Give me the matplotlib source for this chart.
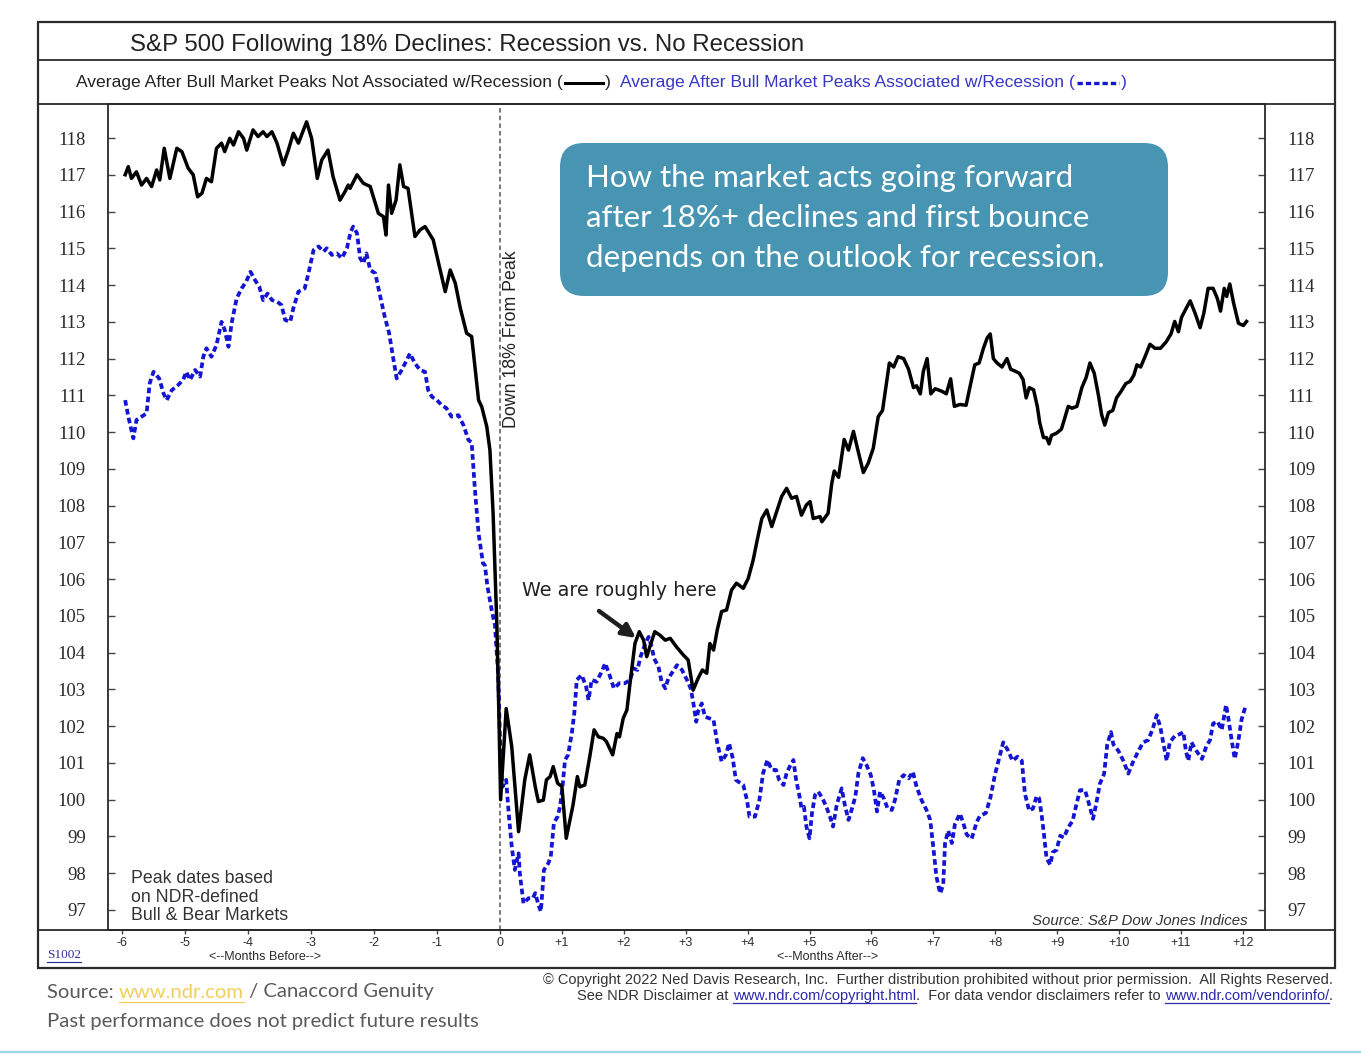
import matplotlib
matplotlib.use("Agg")
import matplotlib.pyplot as plt
import numpy as np
from matplotlib.lines import Line2D
from matplotlib.patches import Rectangle, FancyBboxPatch, FancyArrowPatch
from matplotlib.transforms import Affine2D

# ---------------- data (months from peak, index level) ----------------
no_rec_x = [-5.95, -5.90, -5.85, -5.77, -5.69, -5.61, -5.53, -5.45, -5.40, -5.33,
            -5.24, -5.13, -5.05, -4.95, -4.87, -4.80, -4.73, -4.66, -4.58, -4.50,
            -4.42, -4.37, -4.29, -4.23, -4.15, -4.07, -4.02, -3.92, -3.84, -3.76,
            -3.70, -3.62, -3.54, -3.44, -3.36, -3.28, -3.20, -3.07, -2.99, -2.90,
            -2.83, -2.73, -2.65, -2.54, -2.46, -2.41, -2.38, -2.27, -2.17, -2.06,
            -1.93, -1.85, -1.81, -1.77, -1.72, -1.65, -1.59, -1.53, -1.46, -1.35,
            -1.27, -1.19, -1.06, -0.87, -0.79, -0.71, -0.63, -0.53, -0.45, -0.34,
            -0.29, -0.21, -0.16, -0.11, -0.05, -0.02, 0.01, 0.10, 0.19, 0.30,
            0.40, 0.48, 0.57, 0.62, 0.70, 0.75, 0.81, 0.86, 0.93, 1.00,
            1.07, 1.13, 1.18, 1.25, 1.29, 1.37, 1.45, 1.52, 1.59, 1.67,
            1.72, 1.82, 1.89, 1.93, 1.99, 2.05, 2.10, 2.18, 2.25, 2.32,
            2.37, 2.43, 2.50, 2.58, 2.67, 2.75, 2.85, 2.96, 3.04, 3.12,
            3.20, 3.27, 3.34, 3.39, 3.45, 3.51, 3.58, 3.66, 3.74, 3.82,
            3.93, 4.01, 4.09, 4.15, 4.23, 4.31, 4.39, 4.47, 4.55, 4.63,
            4.71, 4.79, 4.87, 4.95, 5.01, 5.06, 5.17, 5.20, 5.30, 5.36,
            5.40, 5.47, 5.56, 5.63, 5.71, 5.79, 5.87, 5.95, 6.03, 6.11,
            6.18, 6.24, 6.29, 6.36, 6.43, 6.52, 6.60, 6.68, 6.73, 6.79,
            6.84, 6.90, 6.96, 7.03, 7.14, 7.21, 7.28, 7.34, 7.43, 7.53,
            7.59, 7.67, 7.74, 7.81, 7.87, 7.92, 7.97, 8.03, 8.11, 8.19,
            8.25, 8.32, 8.39, 8.45, 8.50, 8.55, 8.62, 8.68, 8.72, 8.78,
            8.83, 8.87, 8.91, 8.99, 9.07, 9.13, 9.18, 9.24, 9.32, 9.40,
            9.47, 9.53, 9.60, 9.67, 9.72, 9.77, 9.83, 9.90, 9.96, 10.03,
            10.11, 10.18, 10.24, 10.29, 10.35, 10.42, 10.50, 10.58, 10.67, 10.76,
            10.84, 10.90, 10.96, 11.01, 11.08, 11.15, 11.23, 11.31, 11.37, 11.44,
            11.52, 11.59, 11.64, 11.70, 11.74, 11.79, 11.85, 11.93, 12.01, 12.06]
no_rec_y = [117.00, 117.22, 116.90, 117.08, 116.72, 116.90, 116.68, 117.13, 116.86, 117.72,
            116.90, 117.72, 117.63, 117.18, 117.00, 116.40, 116.50, 116.90, 116.81, 117.72,
            117.86, 117.63, 117.99, 117.81, 118.17, 117.99, 117.67, 118.22, 118.04, 118.17,
            118.04, 118.17, 117.86, 117.27, 117.67, 118.13, 117.86, 118.44, 117.99, 116.90,
            117.40, 117.67, 116.95, 116.31, 116.54, 116.72, 116.63, 117.00, 116.77, 116.68,
            115.95, 115.86, 115.36, 116.72, 115.95, 116.31, 117.27, 116.68, 116.63, 115.32,
            115.50, 115.59, 115.23, 113.82, 114.41, 114.05, 113.37, 112.69, 112.60, 110.87,
            110.69, 110.15, 109.51, 107.81, 104.75, 102.50, 100.00, 102.48, 101.44, 99.13,
            100.54, 101.22, 100.35, 99.95, 99.99, 100.54, 100.63, 100.90, 100.45, 100.36,
            98.95, 99.45, 99.86, 100.63, 100.35, 100.40, 101.17, 101.90, 101.71, 101.67,
            101.58, 101.22, 101.80, 101.71, 102.21, 102.44, 103.16, 104.25, 104.57, 104.34,
            103.89, 104.21, 104.57, 104.48, 104.34, 104.39, 104.16, 103.94, 103.80, 102.98,
            103.30, 103.53, 103.44, 104.25, 104.07, 104.62, 105.12, 105.16, 105.70, 105.89,
            105.75, 106.02, 106.52, 107.02, 107.65, 107.88, 107.43, 107.84, 108.25, 108.47,
            108.20, 108.25, 107.74, 108.02, 108.11, 107.65, 107.70, 107.56, 107.79, 108.61,
            108.94, 108.77, 109.80, 109.51, 110.02, 109.45, 108.90, 109.16, 109.56, 110.42,
            110.59, 111.30, 111.88, 111.77, 112.05, 112.00, 111.71, 111.21, 111.26, 111.04,
            111.66, 112.00, 111.04, 111.18, 111.11, 111.04, 111.45, 110.70, 110.75, 110.73,
            111.21, 111.83, 111.88, 112.28, 112.56, 112.67, 112.00, 111.88, 111.77, 112.00,
            111.71, 111.66, 111.60, 111.43, 110.93, 111.21, 111.15, 110.70, 110.25, 109.85,
            109.85, 109.68, 109.91, 109.97, 110.08, 110.42, 110.70, 110.65, 110.70, 111.21,
            111.49, 111.88, 111.60, 110.98, 110.47, 110.19, 110.53, 110.59, 110.93, 111.10,
            111.32, 111.38, 111.55, 111.83, 111.77, 112.05, 112.39, 112.28, 112.28, 112.45,
            112.67, 113.01, 112.73, 113.12, 113.35, 113.57, 113.23, 112.84, 113.23, 113.91,
            113.91, 113.63, 113.29, 113.91, 113.69, 114.03, 113.52, 112.96, 112.90, 113.01]

rec_x = [-5.95, -5.90, -5.82, -5.77, -5.69, -5.61, -5.56, -5.50, -5.41, -5.34,
         -5.29, -5.21, -5.11, -5.03, -4.98, -4.92, -4.84, -4.76, -4.71, -4.66,
         -4.58, -4.50, -4.42, -4.37, -4.31, -4.26, -4.18, -4.10, -4.03, -3.96,
         -3.89, -3.82, -3.76, -3.69, -3.62, -3.54, -3.47, -3.41, -3.33, -3.28,
         -3.20, -3.10, -3.04, -2.96, -2.88, -2.80, -2.75, -2.67, -2.59, -2.51,
         -2.43, -2.37, -2.33, -2.27, -2.22, -2.17, -2.12, -2.06, -1.98, -1.90,
         -1.83, -1.76, -1.69, -1.64, -1.56, -1.48, -1.43, -1.35, -1.27, -1.19,
         -1.14, -1.08, -1.00, -0.93, -0.85, -0.77, -0.66, -0.58, -0.50, -0.45,
         -0.40, -0.34, -0.27, -0.24, -0.20, -0.13, -0.08, -0.03, 0.00, 0.02,
         0.04, 0.10, 0.14, 0.19, 0.24, 0.30, 0.32, 0.38, 0.46, 0.53,
         0.57, 0.62, 0.66, 0.71, 0.78, 0.82, 0.87, 0.93, 0.97, 1.01,
         1.05, 1.10, 1.16, 1.20, 1.24, 1.32, 1.39, 1.43, 1.48, 1.56,
         1.63, 1.70, 1.77, 1.84, 1.93, 2.02, 2.10, 2.16, 2.22, 2.27,
         2.34, 2.40, 2.45, 2.49, 2.56, 2.61, 2.67, 2.72, 2.79, 2.86,
         2.94, 3.02, 3.08, 3.12, 3.17, 3.20, 3.26, 3.31, 3.39, 3.45,
         3.51, 3.58, 3.65, 3.70, 3.76, 3.81, 3.85, 3.93, 3.99, 4.03,
         4.12, 4.19, 4.25, 4.32, 4.39, 4.46, 4.51, 4.58, 4.63, 4.68,
         4.74, 4.78, 4.84, 4.87, 4.91, 4.95, 5.00, 5.04, 5.09, 5.14,
         5.21, 5.28, 5.33, 5.38, 5.44, 5.52, 5.57, 5.63, 5.68, 5.74,
         5.79, 5.86, 5.92, 5.99, 6.04, 6.09, 6.14, 6.20, 6.26, 6.33,
         6.38, 6.45, 6.52, 6.60, 6.67, 6.73, 6.81, 6.89, 6.95, 7.00,
         7.05, 7.11, 7.16, 7.19, 7.24, 7.30, 7.35, 7.43, 7.48, 7.54,
         7.62, 7.70, 7.75, 7.85, 7.92, 8.00, 8.07, 8.13, 8.21, 8.28,
         8.36, 8.43, 8.48, 8.55, 8.61, 8.67, 8.71, 8.75, 8.79, 8.83,
         8.89, 8.93, 8.99, 9.05, 9.11, 9.18, 9.25, 9.32, 9.37, 9.45,
         9.50, 9.58, 9.63, 9.69, 9.76, 9.81, 9.87, 9.91, 9.99, 10.07,
         10.15, 10.22, 10.30, 10.39, 10.47, 10.54, 10.61, 10.67, 10.72, 10.77,
         10.82, 10.90, 10.99, 11.04, 11.08, 11.12, 11.17, 11.25, 11.34, 11.41,
         11.47, 11.52, 11.59, 11.66, 11.73, 11.77, 11.82, 11.87, 11.93, 11.98,
         12.04]
rec_y = [110.87, 110.42, 109.83, 110.33, 110.42, 110.51, 111.33, 111.64, 111.46, 111.05,
         110.87, 111.14, 111.28, 111.42, 111.64, 111.42, 111.69, 111.51, 112.05, 112.28,
         112.05, 112.37, 113.00, 112.78, 112.32, 112.96, 113.64, 113.91, 114.09, 114.36,
         114.14, 113.95, 113.59, 113.77, 113.59, 113.55, 113.46, 113.05, 113.00, 113.37,
         113.82, 113.91, 114.32, 114.95, 115.05, 114.91, 115.00, 114.82, 114.86, 114.73,
         115.00, 115.45, 115.59, 115.41, 114.73, 114.59, 114.86, 114.41, 114.32, 113.68,
         113.14, 112.69, 111.96, 111.46, 111.69, 111.96, 112.14, 111.87, 111.69, 111.64,
         111.14, 110.96, 110.87, 110.74, 110.65, 110.42, 110.46, 110.19, 109.78, 109.72,
         108.48, 107.24, 106.43, 106.38, 105.81, 105.14, 104.75, 103.42, 101.70, 100.70,
         100.35, 100.54, 99.63, 98.72, 98.09, 98.54, 98.00, 97.18, 97.32, 97.32,
         97.46, 97.14, 96.96, 98.09, 98.27, 98.45, 99.36, 99.54, 99.81, 100.35,
         101.08, 101.22, 101.81, 102.35, 103.26, 103.39, 103.08, 102.71, 103.26, 103.21,
         103.44, 103.71, 103.39, 103.03, 103.17, 103.17, 103.26, 103.57, 103.53, 103.89,
         104.21, 104.43, 104.16, 103.84, 103.62, 103.21, 103.03, 103.30, 103.48, 103.66,
         103.53, 103.26, 103.03, 102.67, 102.12, 102.40, 102.62, 102.26, 102.21, 102.17,
         101.54, 101.04, 101.22, 101.54, 101.13, 100.54, 100.49, 100.40, 99.99, 99.54,
         99.54, 99.99, 100.72, 101.08, 100.81, 100.81, 100.54, 100.40, 100.72, 100.90,
         101.08, 100.58, 100.08, 99.77, 99.81, 99.27, 98.95, 99.63, 100.13, 100.22,
         100.04, 99.77, 99.54, 99.27, 99.86, 100.31, 99.86, 99.45, 99.72, 100.08,
         100.72, 101.13, 100.95, 100.67, 100.27, 99.68, 100.22, 100.04, 99.77, 99.72,
         99.99, 100.54, 100.67, 100.58, 100.76, 100.35, 99.99, 99.72, 99.45, 98.71,
         97.91, 97.45, 97.68, 98.82, 99.16, 98.82, 99.34, 99.62, 99.39, 99.05,
         98.94, 99.39, 99.55, 99.64, 100.04, 100.71, 101.17, 101.56, 101.33, 101.06,
         101.17, 101.06, 100.16, 99.70, 99.76, 100.10, 100.04, 99.59, 99.02, 98.40,
         98.23, 98.57, 98.63, 99.02, 98.97, 99.25, 99.42, 99.93, 100.26, 100.26,
         99.98, 99.48, 99.87, 100.43, 100.71, 101.50, 101.84, 101.50, 101.33, 101.06,
         100.71, 101.00, 101.28, 101.56, 101.62, 101.90, 102.30, 101.96, 101.50, 101.06,
         101.56, 101.73, 101.79, 101.84, 101.33, 101.06, 101.56, 101.33, 101.11, 101.45,
         101.62, 102.07, 102.13, 101.90, 102.58, 102.18, 101.62, 101.11, 101.62, 102.18,
         102.52]

x_ticks = list(range(-6, 13))
x_tick_labels = [str(m) if m <= 0 else "+" + str(m) for m in x_ticks]
y_ticks = list(range(97, 119))
y_tick_labels = [str(v) for v in y_ticks]

title = "S&P 500 Following 18% Declines: Recession vs. No Recession"
legend_black = "Average After Bull Market Peaks Not Associated w/Recession ("
legend_blue = "Average After Bull Market Peaks Associated w/Recession ("
callout = "How the market acts going forward\nafter 18%+ declines and first bounce\ndepends on the outlook for recession."

# ---------------- figure ----------------
W, H = 1361, 1060
fig = plt.figure(figsize=(W / 100, H / 100), dpi=100)
fig.patch.set_facecolor("white")
# pixel transform, origin top-left
T = Affine2D().scale(1.0 / W, -1.0 / H).translate(0, 1) + fig.transFigure
renderer = fig.canvas.get_renderer()

FRAME = "#2a2a2a"
TXT = "#2b2b2b"
BLUE_LINE = "#1414d2"
BLUE_TXT = "#3636c8"


def fx(p):
    return p / W


def fy(p):
    return 1 - p / H


ax = fig.add_axes([fx(108), fy(930), fx(1265) - fx(108), fy(104) - fy(930)])


def fwd(x):
    x = np.asarray(x, float)
    return np.where(x < 0, x * 63.0, x * 61.9)


def inv(p):
    p = np.asarray(p, float)
    return np.where(p < 0, p / 63.0, p / 61.9)


ax.set_xscale("function", functions=(fwd, inv))
ax.set_xlim((108 - 500) / 63.0, (1265 - 500) / 61.9)
ax.set_ylim(97 - 20 / 36.76, 118 + 34 / 36.76)

ax.axvline(0, color="#555555", lw=1.1, ls=(0, (3, 2)), zorder=1)
ax.plot(rec_x, rec_y, color=BLUE_LINE, lw=2.7, ls=(0, (1.5, 0.9)), zorder=3)
ax.plot(no_rec_x, no_rec_y, color="black", lw=2.5, solid_joinstyle="round", zorder=4)

for s in ax.spines.values():
    s.set_color(FRAME)
    s.set_linewidth(1.3)

ax.set_yticks(y_ticks)
ax.set_yticklabels(y_tick_labels, fontfamily="Liberation Serif", fontsize=13.5, color=TXT)
ax.tick_params(axis="y", direction="in", length=5, width=1, color="#444444",
               left=True, right=True, labelleft=True, labelright=True, pad=16)
ax.set_xticks(x_ticks)
ax.set_xticklabels(x_tick_labels, fontfamily="Liberation Sans", fontsize=9, color=TXT)
ax.tick_params(axis="x", direction="out", length=3, width=1, color="#444444", pad=2)
ax.minorticks_off()

# ---------------- frame & bands ----------------
fig.add_artist(Rectangle((38, 22), 1335 - 38, 968 - 22, transform=T, fill=False,
                         ec=FRAME, lw=1.6))
for yy in (60, 104, 930):
    fig.add_artist(Line2D([38, 1335], [yy, yy], transform=T, color=FRAME, lw=1.3))

fig.text(130, 45, title, transform=T, ha="left", va="center", fontsize=17.3,
         fontfamily="Liberation Sans", color="#222222")


def chain(pieces, x, y, underline_gap=7):
    """draw text pieces sequentially from x; pieces: (text, color, kwargs, underline)"""
    cur = x
    for s, col, kw, ul in pieces:
        if s == "__LINE__":
            fig.add_artist(Line2D([cur + 2, cur + kw["w"] - 2], [y + 1, y + 1], transform=T,
                                  color=col, lw=kw["lw"], ls=kw["ls"]))
            cur += kw["w"]
            continue
        t = fig.text(cur, y, s, transform=T, ha="left", va="center", color=col, **kw)
        w = t.get_window_extent(renderer).width
        if ul:
            fig.add_artist(Line2D([cur, cur + w], [y + underline_gap, y + underline_gap],
                                  transform=T, color=col, lw=0.9))
        cur += w
    return cur


lk = dict(fontsize=12.6, fontfamily="Liberation Sans")
chain([(legend_black, "#222222", lk, False),
       ("__LINE__", "black", dict(w=42, lw=2.2, ls="-"), False),
       (")", "#222222", lk, False),
       ("  ", "#222222", lk, False),
       (legend_blue, BLUE_TXT, lk, False),
       ("__LINE__", BLUE_LINE, dict(w=46, lw=2.4, ls=(0, (1.6, 0.9))), False),
       (")", BLUE_TXT, lk, False)], 76, 82)

# ---------------- annotations ----------------
fig.text(512, 339, "Down 18% From Peak", transform=T, rotation=90, ha="center", va="center",
         fontsize=12.8, fontfamily="Liberation Sans", color="#222222")

fig.add_artist(FancyBboxPatch((560, 143), 1168 - 560, 296 - 143, transform=T,
                              boxstyle="round,pad=0,rounding_size=24",
                              fc="#4795b3", ec="none", zorder=5))
fig.text(586, 218, callout, transform=T, ha="left", va="center", fontsize=22.5,
         fontfamily="Lato", color="white", linespacing=1.5, zorder=6)

fig.text(522, 591, "We are roughly here", transform=T, ha="left", va="center",
         fontsize=13.8, fontfamily="DejaVu Sans", color="#222222")
fig.add_artist(FancyArrowPatch((599, 611), (636, 638), transform=T, arrowstyle="-|>",
                               mutation_scale=20, lw=3.2, color="#1f1f1f",
                               shrinkA=0, shrinkB=0))

fig.text(131, 897, "Peak dates based\non NDR-defined\nBull & Bear Markets", transform=T,
         ha="left", va="center", fontsize=12.8, fontfamily="Liberation Sans", color="#333333",
         linespacing=1.1)
fig.text(1248, 921, "Source: S&P Dow Jones Indices", transform=T, ha="right", va="center",
         fontsize=10.8, fontfamily="Liberation Sans", style="italic", color="#333333")

fig.text(265, 957, "<--Months Before-->", transform=T, ha="center", va="center",
         fontsize=9, fontfamily="Liberation Sans", color=TXT)
fig.text(828, 957, "<--Months After-->", transform=T, ha="center", va="center",
         fontsize=9, fontfamily="Liberation Sans", color=TXT)
chain([("S1002", "#3030a0", dict(fontsize=9.5, fontfamily="Liberation Serif"), True)], 47, 955)

# ---------------- below the frame ----------------
gk = dict(fontsize=14.6, fontfamily="Lato", fontweight="normal")
chain([("Source: ", "#5a5a5a", gk, False),
       ("www.ndr.com", "#f0cf5a", gk, True),
       (" / Canaccord Genuity", "#5a5a5a", gk, False)], 47, 992, underline_gap=10)
fig.text(47, 1021, "Past performance does not predict future results", transform=T,
         ha="left", va="center", color="#5a5a5a", **gk)

ck = dict(fontsize=10.5, fontfamily="Liberation Sans")
fig.text(1333, 980, "\u00a9 Copyright 2022 Ned Davis Research, Inc.  Further distribution "
         "prohibited without prior permission.  All Rights Reserved.", transform=T,
         ha="right", va="center", color="#333333", **ck)
line2 = [("See NDR Disclaimer at ", "#333333", ck, False),
         ("www.ndr.com/copyright.html", "#2a2aa8", ck, True),
         (".  For data vendor disclaimers refer to ", "#333333", ck, False),
         ("www.ndr.com/vendorinfo/", "#2a2aa8", ck, True),
         (".", "#333333", ck, False)]
# measure total width to right-align
tot = 0
for s, col, kw, ul in line2:
    tt = fig.text(0, 0, s, **kw)
    tot += tt.get_window_extent(renderer).width
    tt.remove()
chain(line2, 1333 - tot, 996)

fig.add_artist(Line2D([0, W], [1052, 1052], transform=T, color="#9ad6ea", lw=1.6))

fig.savefig("out.png", dpi=100, facecolor="white")
